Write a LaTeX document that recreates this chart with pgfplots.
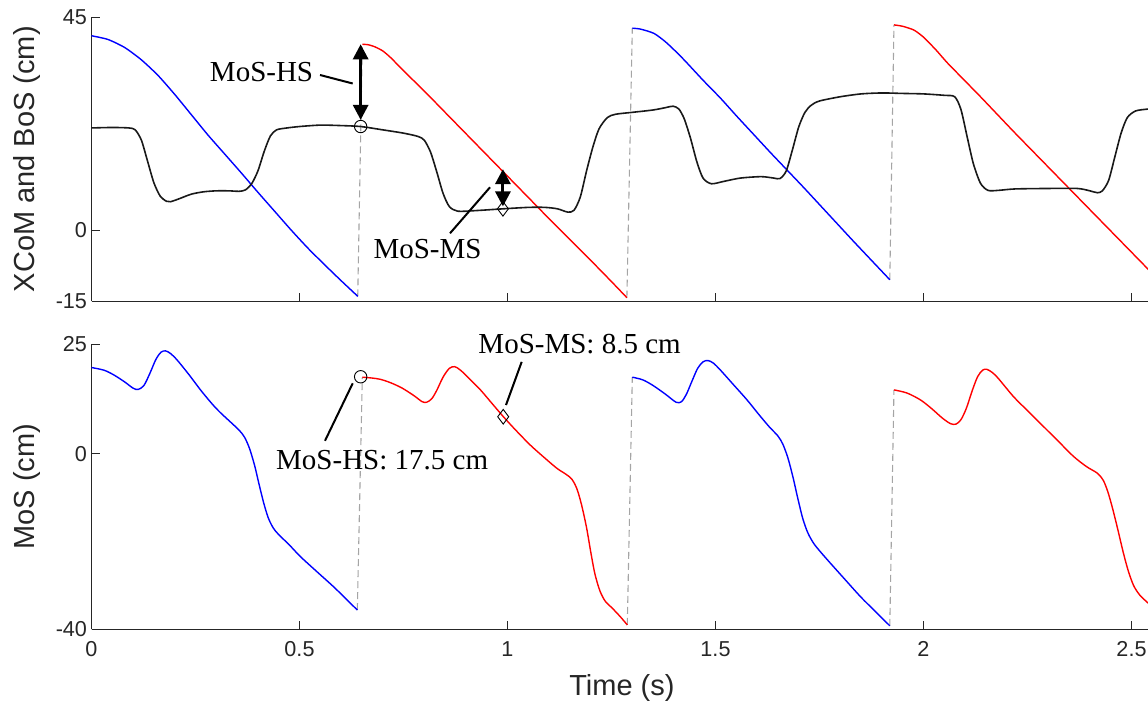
\documentclass[border=0pt]{standalone}
\usepackage{fontspec}
\setmainfont{Liberation Sans}
\newfontfamily\serifann{Liberation Serif}
\usepackage{pgfplots}
\pgfplotsset{compat=1.18}
\usetikzlibrary{arrows.meta}

\definecolor{axgray}{RGB}{38,38,38}
\definecolor{dashgray}{RGB}{165,165,165}
\definecolor{mblue}{RGB}{0,0,255}
\definecolor{mred}{RGB}{255,0,0}

\tikzset{
  ann/.style={font=\serifann\fontsize{29bp}{34bp}\selectfont, inner sep=0pt, text=black},
  dbl/.style={line width=3bp, {Triangle[width=15bp,length=15bp]}-{Triangle[width=15bp,length=15bp]}},
}
\pgfplotsset{
  mosaxis/.style={
    scale only axis, width=1060.8bp, xmin=0, xmax=2.55, clip=false,
    axis x line*=bottom, axis y line*=left,
    axis line style={axgray, line width=0.9bp, -},
    every tick/.style={axgray, line width=0.9bp},
    tick align=inside, major tick length=8bp,
    xtick={0,0.5,1,1.5,2,2.5},
    xticklabels={0,0.5,1,1.5,2,2.5},
    /pgf/number format/assume math mode=true,
    tick label style={font=\fontsize{21.6bp}{25bp}\selectfont, text=axgray},
    yticklabel style={xshift=-1bp},
    xticklabel style={yshift=-8.5bp},
    every axis y label/.style={at={(rel axis cs:-0.0533,0.5)}, rotate=90, anchor=base,
      font=\fontsize{29bp}{34bp}\selectfont, text=axgray},
    every axis x label/.style={at={(rel axis cs:0.5,0)}, anchor=base, yshift=-65.7bp,
      font=\fontsize{29bp}{34bp}\selectfont, text=axgray},
  },
  xcom/.style={line width=1.4bp},
  mos/.style={line width=1.4bp, smooth, tension=0.5},
  bos/.style={line width=1.6bp, black!90, smooth, tension=0.45},
  gap/.style={dashgray, line width=1.1bp, dash pattern=on 7bp off 4bp},
}

\begin{document}
\begin{tikzpicture}
% ---------------- top: XCoM and BoS ----------------
\begin{axis}[mosaxis, at={(91.5bp,-301bp)}, anchor=south west, height=283.7bp,
  ymin=-15, ymax=45, ytick={-15,0,45}, yticklabels={-15,0,45},
  xticklabels={}, ylabel={XCoM and BoS (cm)}]
% gait-event connectors
\addplot[gap] coordinates {(0.640,-14.0) (0.651,39.3)};
\addplot[gap] coordinates {(1.287,-14.3) (1.300,42.7)};
\addplot[gap] coordinates {(1.919,-10.5) (1.929,43.4)};
% XCoM segments
\addplot[xcom, mblue, smooth, tension=0.4] coordinates {
(0,41.1) (0.04,40.3) (0.08,38.6) (0.12,36.0) (0.16,32.7) (0.20,28.7) (0.24,24.4)
(0.28,20.1) (0.32,16.1) (0.36,12.1) (0.40,8.0) (0.44,4.0) (0.48,0.0) (0.52,-3.8)
(0.56,-7.3) (0.60,-10.7) (0.640,-14.0)};
\addplot[xcom, mred, smooth, tension=0.4] coordinates {
(0.651,39.3) (0.665,39.2) (0.68,38.8) (0.70,37.9) (0.72,36.4) (0.75,33.7) (0.80,29.4)
(0.85,24.9) (0.90,20.4) (0.95,15.9) (1.00,11.4) (1.05,6.9) (1.10,2.4) (1.15,-2.0)
(1.20,-6.4) (1.25,-10.9) (1.287,-14.3)};
\addplot[xcom, mblue, smooth, tension=0.4] coordinates {
(1.300,42.7) (1.32,42.5) (1.352,41.6) (1.38,39.8) (1.41,37.3) (1.432,35.3) (1.47,31.7)
(1.512,27.9) (1.552,24.0) (1.592,20.2) (1.632,16.4) (1.672,12.7) (1.712,9.0) (1.752,5.2)
(1.792,1.4) (1.832,-2.4) (1.876,-6.5) (1.919,-10.5)};
\addplot[xcom, mred, smooth, tension=0.4] coordinates {
(1.929,43.4) (1.95,43.1) (1.977,42.3) (2.00,40.8) (2.03,38.1) (2.057,35.4) (2.097,31.8)
(2.137,28.2) (2.177,24.5) (2.217,20.8) (2.258,17.1) (2.298,13.5) (2.338,9.9) (2.378,6.3)
(2.418,2.7) (2.458,-0.9) (2.498,-4.5) (2.538,-8.1) (2.555,-9.6)};
% BoS
\addplot[bos] coordinates {
(0,21.6) (0.05,21.7) (0.09,21.6) (0.105,21.2) (0.12,19.0) (0.135,14.5) (0.15,10.0)
(0.165,7.2) (0.18,6.1) (0.19,6.0) (0.21,6.6) (0.24,7.6) (0.27,8.1) (0.30,8.3) (0.33,8.3)
(0.355,8.2) (0.37,8.5) (0.385,9.8) (0.40,12.5) (0.415,16.6) (0.43,19.9) (0.445,21.2)
(0.47,21.6) (0.50,21.9) (0.55,22.2) (0.60,22.1) (0.647,21.9) (0.70,21.2) (0.75,20.5)
(0.785,19.8) (0.80,19.0) (0.815,16.5) (0.83,12.3) (0.845,7.8) (0.86,5.0) (0.88,4.0)
(0.92,4.1) (0.99,4.5) (1.05,4.8) (1.09,4.8) (1.12,4.5) (1.145,3.8) (1.16,4.2) (1.175,7.0)
(1.19,12.5) (1.205,17.5) (1.22,21.4) (1.24,23.8) (1.26,24.5) (1.30,24.9) (1.35,25.4)
(1.38,25.9) (1.398,26.2) (1.412,25.6) (1.425,23.5) (1.44,19.4) (1.455,14.5) (1.47,11.0)
(1.49,9.8) (1.52,10.3) (1.56,11.0) (1.61,11.3) (1.64,11.0) (1.655,10.9) (1.67,12.5)
(1.685,17.0) (1.70,21.8) (1.715,24.9) (1.73,26.4) (1.75,27.3) (1.80,28.2) (1.85,28.8)
(1.90,29.0) (1.95,28.9) (2.00,28.8) (2.05,28.5) (2.075,28.2) (2.09,25.5) (2.105,19.7)
(2.12,14.0) (2.137,9.9) (2.155,8.4) (2.18,8.4) (2.22,8.7) (2.30,8.8) (2.37,8.8) (2.40,8.3)
(2.418,7.9) (2.43,8.3) (2.445,10.5) (2.46,15.5) (2.475,20.5) (2.49,23.8) (2.51,25.2)
(2.54,25.6) (2.555,25.7)};
% markers
\addplot[only marks, mark=o, mark size=6.2bp, black, mark options={line width=0.9bp}] coordinates {(0.647,21.9)};
\addplot[only marks, mark=diamond, mark size=7.3bp, black, mark options={line width=0.9bp}] coordinates {(0.989,4.5)};
% annotations
\draw[dbl] (axis cs:0.647,23.3) -- (axis cs:0.647,39.3);
\draw[dbl] (axis cs:0.989,5.0) -- (axis cs:0.989,12.9);
\draw[line width=2bp] (axis cs:0.5493,32.8) -- (axis cs:0.6279,31.0);
\node[ann, anchor=base east] at (axis cs:0.5332,31.4) {MoS-HS};
\draw[line width=2bp] (axis cs:0.8618,-0.68) -- (axis cs:0.958,9.05);
\node[ann, anchor=base east] at (axis cs:0.938,-5.96) {MoS-MS};
\end{axis}

% ---------------- bottom: MoS ----------------
\begin{axis}[mosaxis, at={(91.5bp,-629.3bp)}, anchor=south west, height=285bp,
  ymin=-40, ymax=25, ytick={-40,0,25}, yticklabels={-40,0,25},
  ylabel={MoS (cm)}, xlabel={Time (s)}]
\addplot[gap] coordinates {(0.639,-35.6) (0.651,17.5)};
\addplot[gap] coordinates {(1.288,-39.0) (1.300,17.5)};
\addplot[gap] coordinates {(1.919,-39.2) (1.929,14.6)};
\addplot[mos, mblue] coordinates {
(0,19.7) (0.03,19.1) (0.054,18.0) (0.08,16.4) (0.10,15.0) (0.112,14.7) (0.126,15.6)
(0.140,18.3) (0.155,21.6) (0.167,23.2) (0.178,23.5) (0.19,22.9) (0.206,21.4) (0.235,18.0)
(0.262,14.6) (0.29,11.4) (0.31,9.4) (0.335,7.2) (0.355,5.4) (0.368,3.8) (0.38,1.2)
(0.392,-2.6) (0.403,-7.0) (0.414,-11.2) (0.425,-14.6) (0.437,-16.9) (0.45,-18.4)
(0.475,-20.7) (0.502,-23.4) (0.54,-26.7) (0.582,-30.3) (0.61,-32.9) (0.639,-35.6)};
\addplot[mos, mred] coordinates {
(0.651,17.5) (0.675,17.3) (0.695,17.0) (0.72,16.2) (0.747,15.0) (0.775,13.3) (0.795,11.9)
(0.806,11.8) (0.818,12.6) (0.830,14.5) (0.845,17.5) (0.860,19.5) (0.873,19.9) (0.887,19.1)
(0.91,17.0) (0.935,14.6) (0.962,11.6) (0.990,8.5) (1.02,5.4) (1.055,2.0) (1.088,-0.8)
(1.119,-3.3) (1.14,-4.6) (1.155,-5.8) (1.167,-8.0) (1.178,-11.6) (1.19,-16.8) (1.20,-22.3)
(1.21,-27.3) (1.222,-31.2) (1.235,-33.6) (1.25,-35.0) (1.27,-37.0) (1.288,-39.0)};
\addplot[mos, mblue] coordinates {
(1.300,17.5) (1.325,16.9) (1.35,15.6) (1.38,13.6) (1.405,11.8) (1.418,11.9) (1.43,13.6)
(1.443,16.5) (1.457,19.5) (1.47,21.0) (1.482,21.3) (1.495,20.7) (1.512,19.1) (1.545,15.6)
(1.576,12.3) (1.605,8.9) (1.63,6.1) (1.65,4.1) (1.662,2.2) (1.674,-0.9) (1.686,-5.2)
(1.698,-10.2) (1.710,-14.8) (1.722,-18.0) (1.736,-20.4) (1.752,-22.3) (1.776,-24.9)
(1.81,-28.5) (1.849,-32.6) (1.885,-36.0) (1.919,-39.2)};
\addplot[mos, mred] coordinates {
(1.929,14.6) (1.96,13.9) (1.993,12.3) (2.02,10.3) (2.045,8.2) (2.065,6.9) (2.078,6.8)
(2.09,7.8) (2.103,10.4) (2.117,14.4) (2.130,17.6) (2.142,19.1) (2.152,19.3) (2.165,18.6)
(2.18,17.2) (2.217,13.0) (2.253,9.6) (2.289,6.2) (2.325,2.8) (2.361,-0.6) (2.392,-2.9)
(2.418,-4.4) (2.432,-6.0) (2.443,-8.6) (2.455,-12.6) (2.467,-17.2) (2.48,-22.4)
(2.492,-26.6) (2.505,-30.0) (2.52,-32.2) (2.541,-34.1) (2.555,-35.2)};
% markers
\addplot[only marks, mark=o, mark size=6.2bp, black, mark options={line width=0.9bp}] coordinates {(0.647,17.6)};
\addplot[only marks, mark=diamond, mark size=7.3bp, black, mark options={line width=0.9bp}] coordinates {(0.9897,8.48)};
% annotations
\draw[line width=2bp] (axis cs:0.6279,16.1) -- (axis cs:0.5613,3.0);
\node[ann, anchor=base west] at (axis cs:0.4435,-3.44) {MoS-HS: 17.5 cm};
\draw[line width=2bp] (axis cs:0.9964,11.15) -- (axis cs:1.0341,21.0);
\node[ann, anchor=base west] at (axis cs:0.9298,22.94) {MoS-MS: 8.5 cm};
\end{axis}
\pgfresetboundingbox
\path[use as bounding box] (0,0) rectangle (1148bp,-704bp);
\end{tikzpicture}
\end{document}
